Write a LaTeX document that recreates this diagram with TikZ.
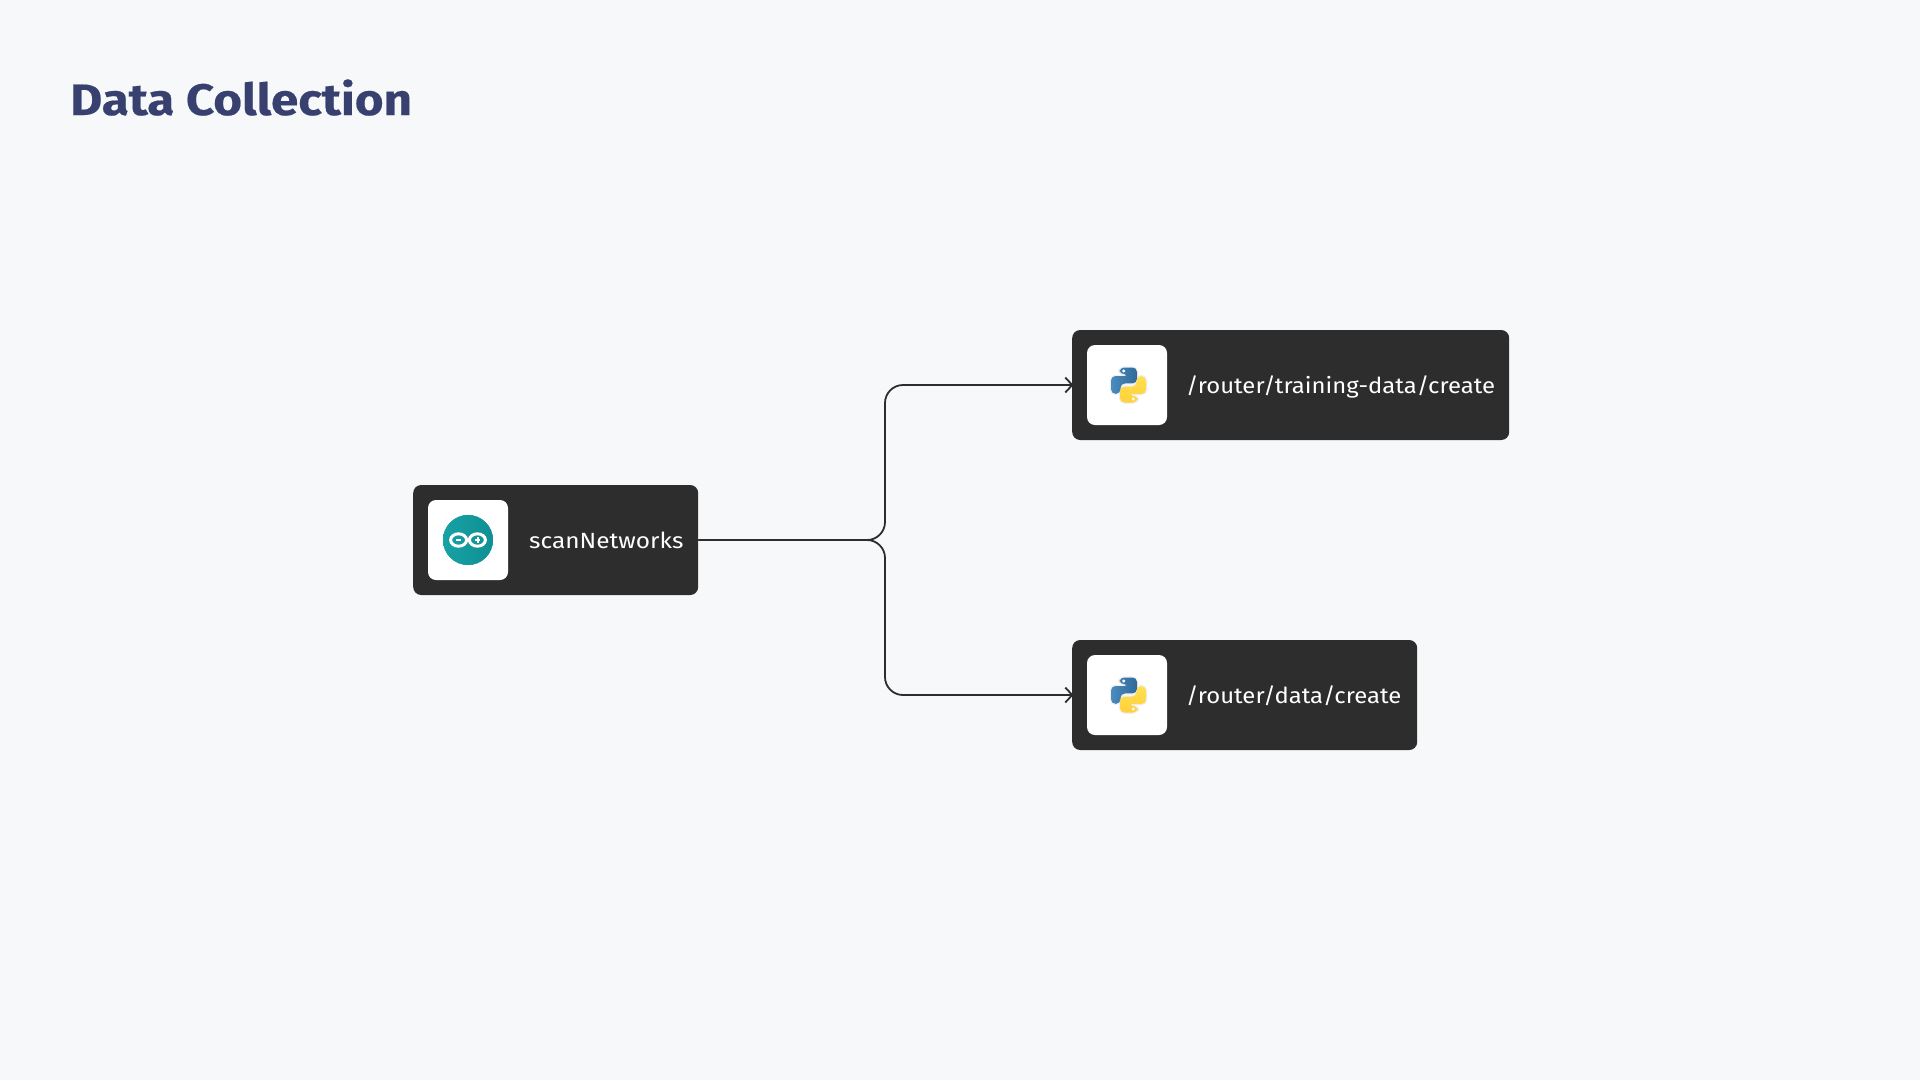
\documentclass[tikz,border=0pt]{standalone}
\usepackage{fontspec}
\setmainfont{Fira Sans}
\newfontfamily\labelfont[FakeStretch=1.085]{Fira Sans}
\newfontfamily\srcfont[FakeStretch=1.11]{Fira Sans}
\newfontfamily\titlefont[FakeStretch=1.12,FakeBold=0.4]{Fira Sans Bold}
\usetikzlibrary{arrows.meta}
\definecolor{bgc}{HTML}{F7F8FA}
\definecolor{boxc}{HTML}{2D2D2D}
\definecolor{titlec}{HTML}{38406F}
\definecolor{pyblueA}{HTML}{4B8BBE}
\definecolor{pyblueB}{HTML}{306998}
\definecolor{pyyelA}{HTML}{FFE052}
\definecolor{pyyelB}{HTML}{FFD03B}
\definecolor{tealA}{HTML}{17A2A5}
\definecolor{tealB}{HTML}{0F8F93}
\tikzset{
  darkbox/.style={draw=none,fill=boxc,rounded corners=8pt,minimum height=110pt,inner sep=0pt,anchor=west},
  iconbox/.style={draw=none,fill=white,rounded corners=8pt,minimum width=80pt,minimum height=80pt,inner sep=0pt},
  boxlabel/.style={text=white,inner sep=0pt,anchor=base west,font=\labelfont\fontsize{22}{26}\selectfont},
  titletext/.style={text=titlec,inner sep=0pt,anchor=base west,font=\titlefont\fontsize{44}{50}\selectfont},
  link/.style={draw=boxc,line width=1.8pt,rounded corners=18pt,shorten >=-1.5pt,-{Straight Barb[length=7pt,width=15pt,line width=1.8pt]}},
  pylogo/.pic={
    \path[draw=black!6,line width=2.5pt,line join=round,rounded corners=4.5pt]
      (-9,-17.5) -- (8.5,-17.5) -- (8.5,-1.6) -- (-8,-1.6) -- (-8,8.8) -- (-17.5,8.8) -- (-17.5,-9)
      -- (0.4,-9) -- (0.4,-10.8) -- (-9,-10.8) -- cycle;
    \path[draw=black!6,line width=2.5pt,line join=round,rounded corners=4.5pt]
      (9,17.5) -- (-8.5,17.5) -- (-8.5,1.6) -- (8,1.6) -- (8,-8.8) -- (17.5,-8.8) -- (17.5,9)
      -- (-0.4,9) -- (-0.4,10.8) -- (9,10.8) -- cycle;
    \path[shade,left color=pyblueA,right color=pyblueB,rounded corners=4.5pt]
      (-9,-17.5) -- (8.5,-17.5) -- (8.5,-1.6) -- (-8,-1.6) -- (-8,8.8) -- (-17.5,8.8) -- (-17.5,-9)
      -- (0.4,-9) -- (0.4,-10.8) -- (-9,-10.8) -- cycle;
    \path[shade,top color=pyyelA,bottom color=pyyelB,rounded corners=4.5pt]
      (9,17.5) -- (-8.5,17.5) -- (-8.5,1.6) -- (8,1.6) -- (8,-8.8) -- (17.5,-8.8) -- (17.5,9)
      -- (-0.4,9) -- (-0.4,10.8) -- (9,10.8) -- cycle;
    \fill[white] (-4.8,-14) circle[radius=1.6];
    \fill[white] (4.8,14) circle[radius=1.6];
  },
  ardlogo/.pic={
    \fill[tealA] (0,0) circle[radius=25];
    \path[shade,left color=tealA,right color=tealB] (0,0) circle[radius=25];
    \draw[white,line width=3pt] (-9.4,0) ellipse[x radius=8,y radius=6.2];
    \draw[white,line width=3pt] (9.4,0) ellipse[x radius=8,y radius=6.2];
    \fill[white] (-12.2,-1) rectangle (-6.8,1);
    \fill[white] (6.8,-1) rectangle (12.2,1);
    \fill[white] (8.5,-2.7) rectangle (10.5,2.7);
  }
}
\begin{document}
\begin{tikzpicture}[x=1pt,y=-1pt]
  \useasboundingbox (0,0) rectangle (1920,1080);
  \fill[bgc] (0,0) rectangle (1920,1080);

  \node[titletext] (title) at (70,115) {Data Collection};

  \node[darkbox,minimum width=285pt] (src) at (413,540) {};
  \node[darkbox,minimum width=437pt] (trainbox) at (1072,385) {};
  \node[darkbox,minimum width=345pt] (databox) at (1072,695) {};

  \node[iconbox] (srcicon) at (468,540) {};
  \node[iconbox] (trainicon) at (1127,385) {};
  \node[iconbox] (dataicon) at (1127,695) {};

  \pic at (srcicon.center) {ardlogo};
  \pic[xshift=1.5pt] at (trainicon.center) {pylogo};
  \pic[xshift=1.5pt] at (dataicon.center) {pylogo};

  \node[boxlabel,font=\srcfont\fontsize{22}{26}\selectfont] (srclabel) at (529,548.5) {scanNetworks};
  \node[boxlabel] (trainlabel) at (1186,393.5) {/router/training-data/create};
  \node[boxlabel] (datalabel) at (1186,703.5) {/router/data/create};

  \coordinate (trunk) at (885,540);
  \draw[link] (src.east) -- (trunk) |- (trainbox.west);
  \draw[link] (src.east) -- (trunk) |- (databox.west);
\end{tikzpicture}
\end{document}
